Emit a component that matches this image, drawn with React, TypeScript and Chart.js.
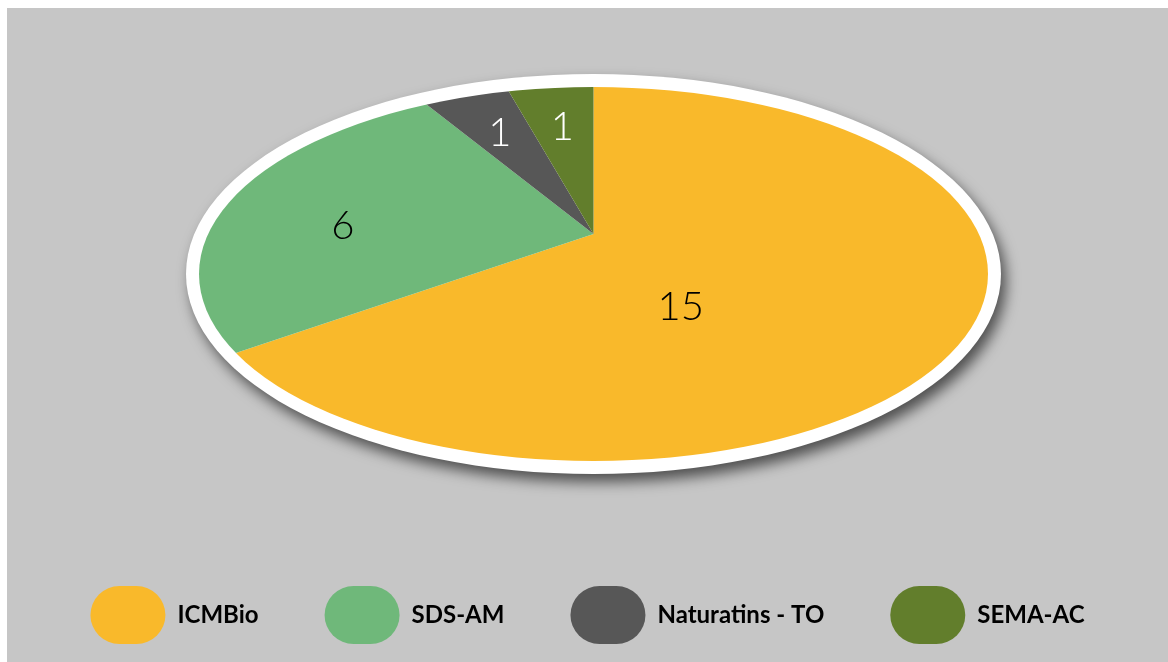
import React, { useEffect, useRef } from "react";
import { Chart, registerables } from "chart.js";

Chart.register(...registerables);

const LABELS = ["ICMBio", "SDS-AM", "Naturatins - TO", "SEMA-AC"];
const VALUES = [15, 6, 1, 1];
const COLORS = ["#F9B92B", "#6FB87A", "#575757", "#627E2C"];
const VALUE_COLORS = ["#000000", "#000000", "#ffffff", "#ffffff"];

// ellipse geometry (canvas px)
const GEOM = { cx: 586.5, cy: 266, rx: 394.5, ry: 187, ring: 13, apexDy: -40, stretch: 2.12, labelPush: 1.11 };

const ellipsePie = {
  id: "ellipsePie",
  beforeDatasetsDraw(chart: any) {
    const ctx = chart.ctx as CanvasRenderingContext2D;
    const g = GEOM;
    const meta = chart.getDatasetMeta(0);
    const arc0 = meta.data[0];
    const ax = g.cx;
    const ay = g.cy + g.apexDy;
    ctx.save();
    ctx.shadowColor = "rgba(0,0,0,0.6)";
    ctx.shadowBlur = 14;
    ctx.shadowOffsetX = 5;
    ctx.shadowOffsetY = 8;
    ctx.beginPath();
    ctx.ellipse(g.cx, g.cy, g.rx + g.ring, g.ry + g.ring, 0, 0, Math.PI * 2);
    ctx.fillStyle = "#ffffff";
    ctx.fill();
    ctx.restore();
    ctx.save();
    ctx.beginPath();
    ctx.ellipse(g.cx, g.cy, g.rx, g.ry, 0, 0, Math.PI * 2);
    ctx.clip();
    ctx.translate(ax, ay);
    ctx.scale(g.stretch, 1);
    ctx.translate(-arc0.x, -arc0.y);
  },
  afterDatasetsDraw(chart: any) {
    const ctx = chart.ctx as CanvasRenderingContext2D;
    ctx.restore();
    const g = GEOM;
    const meta = chart.getDatasetMeta(0);
    const ax = g.cx;
    const ay = g.cy + g.apexDy;
    const n = meta.data.length;
    const sx = new Array(n).fill(0);
    const sy = new Array(n).fill(0);
    const cnt = new Array(n).fill(0);
    const step = 2;
    for (let y = g.cy - g.ry; y <= g.cy + g.ry; y += step) {
      for (let x = g.cx - g.rx; x <= g.cx + g.rx; x += step) {
        const ex = (x - g.cx) / g.rx;
        const ey = (y - g.cy) / g.ry;
        if (ex * ex + ey * ey > 1) continue;
        let a = Math.atan2(y - ay, (x - ax) / g.stretch);
        if (a < -Math.PI / 2) a += Math.PI * 2;
        for (let i = 0; i < n; i++) {
          const arc = meta.data[i];
          if (a >= arc.startAngle && a < arc.endAngle) {
            sx[i] += x;
            sy[i] += y;
            cnt[i]++;
            break;
          }
        }
      }
    }
    ctx.save();
    ctx.font = "300 40px Lato, 'Open Sans', sans-serif";
    ctx.textAlign = "center";
    ctx.textBaseline = "middle";
    for (let i = 0; i < n; i++) {
      if (!cnt[i]) continue;
      const cxp = ax + (sx[i] / cnt[i] - ax) * g.labelPush;
      const cyp = ay + (sy[i] / cnt[i] - ay) * g.labelPush;
      ctx.fillStyle = VALUE_COLORS[i];
      ctx.fillText(String(VALUES[i]), cxp, cyp);
    }
    ctx.restore();
  },
};

export default function App() {
  const ref = useRef<HTMLCanvasElement | null>(null);
  useEffect(() => {
    if (!ref.current) return;
    const chart = new Chart(ref.current, {
      type: "pie",
      data: {
        labels: LABELS,
        datasets: [
          {
            data: VALUES,
            backgroundColor: COLORS,
            borderWidth: 0,
            clip: false,
          } as any,
        ],
      },
      options: {
        animation: false,
        responsive: true,
        maintainAspectRatio: false,
        radius: 300,
        layout: { padding: { bottom: 8 } },
        plugins: {
          tooltip: { enabled: false },
          legend: {
            position: "bottom",
            labels: {
              boxWidth: 75,
              boxHeight: 58,
              padding: 66,
              color: "#000",
              font: { family: "Lato, 'Open Sans', sans-serif", size: 24, weight: "bold" },
              useBorderRadius: true,
              borderRadius: 29,
              generateLabels: () =>
                LABELS.map((text, i) => ({
                  text,
                  fillStyle: COLORS[i],
                  strokeStyle: COLORS[i],
                  lineWidth: 0,
                  borderRadius: 29,
                  hidden: false,
                  index: i,
                  fontColor: "#000",
                })),
            },
          },
        },
      } as any,
      plugins: [ellipsePie],
    });
    return () => chart.destroy();
  }, []);
  return (
    <div
      style={{
        position: "fixed",
        left: 7,
        top: 8,
        right: 0,
        bottom: 0,
        background: "#C6C6C6",
      }}
    >
      <canvas ref={ref} />
    </div>
  );
}
